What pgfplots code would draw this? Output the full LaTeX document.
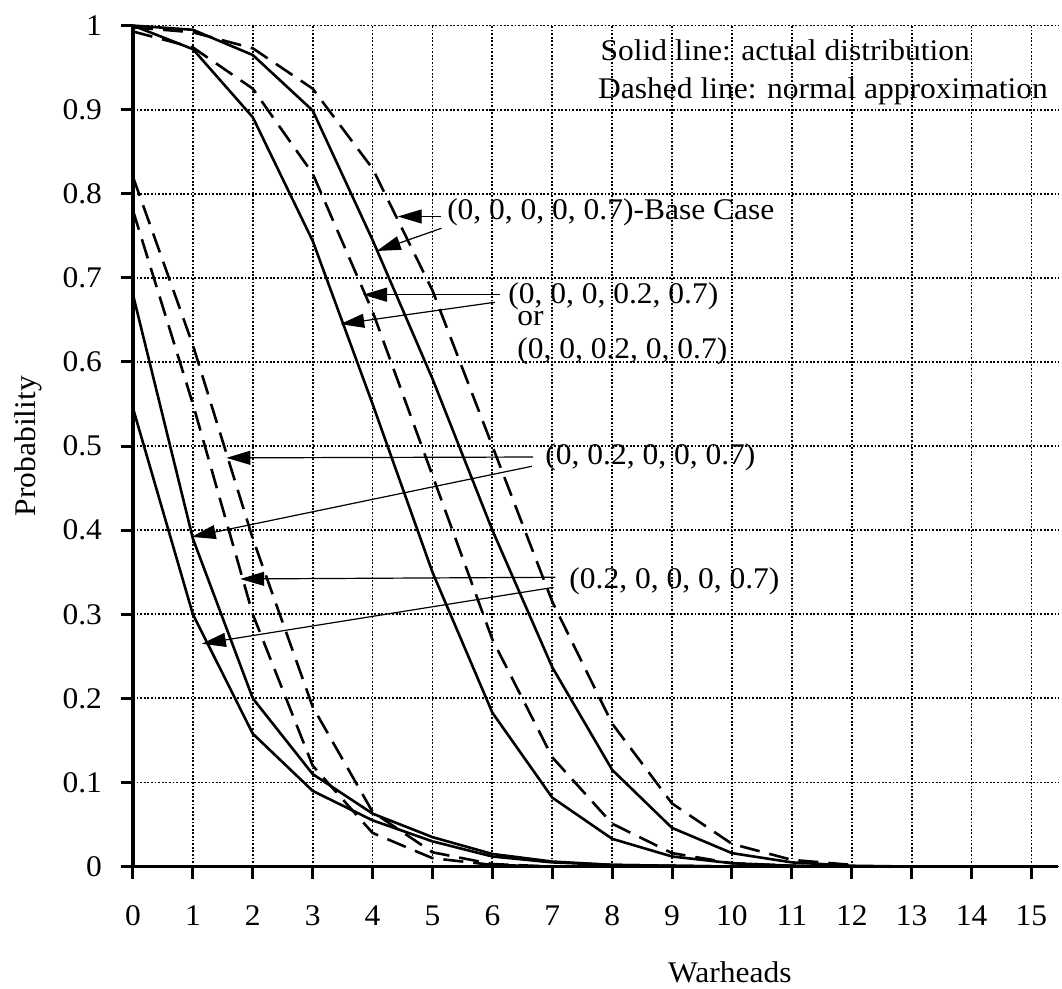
\documentclass[border=0pt]{standalone}
\usepackage{fontspec}
\setmainfont{Liberation Serif}[FakeStretch=1.05]
\usepackage{pgfplots}
\usepackage{pgfplotstable}
\pgfplotsset{compat=1.18}
\usetikzlibrary{arrows.meta}

% actual distribution (solid)
\pgfplotstableread{
x  A     B     C     D
0  1.000 1.000 0.680 0.545
1  0.995 0.972 0.390 0.300
2  0.965 0.891 0.200 0.158
3  0.899 0.744 0.110 0.090
4  0.745 0.550 0.063 0.055
5  0.580 0.350 0.035 0.030
6  0.400 0.183 0.015 0.012
7  0.237 0.082 0.006 0.005
8  0.115 0.033 0.002 0.002
9  0.046 0.012 0.001 0.001
10 0.016 0.004 0.000 0.000
11 0.005 0.001 0.000 0.000
12 0.001 0.000 0.000 0.000
13 0.000 0.000 0.000 0.000
}\solid

% normal approximation (dashed)
\pgfplotstableread{
x  A     B     C     D
0  0.998 0.993 0.820 0.780
1  0.992 0.974 0.620 0.550
2  0.973 0.925 0.390 0.300
3  0.925 0.824 0.190 0.120
4  0.830 0.660 0.065 0.040
5  0.685 0.465 0.017 0.010
6  0.500 0.270 0.003 0.002
7  0.315 0.130 0.000 0.000
8  0.170 0.051 0.000 0.000
9  0.075 0.016 0.000 0.000
10 0.027 0.004 0.000 0.000
11 0.008 0.001 0.000 0.000
12 0.002 0.000 0.000 0.000
}\normal

\begin{document}
\begin{tikzpicture}[font=\fontsize{15}{18}\selectfont]
\begin{axis}[
    at={(0,0)}, anchor=south west,
    scale only axis,
    width=462.7pt, height=420.5pt,
    xmin=0, xmax=15.45, ymin=0, ymax=1,
    axis x line*=bottom, axis y line*=left,
    xtick={0,1,...,15},
    ytick={0,0.1,0.2,0.3,0.4,0.5,0.6,0.7,0.8,0.9,1},
    tick align=outside, major tick length=6pt,
    grid=major,
    grid style={line width=0.9pt, dash pattern=on 0.9pt off 0.9pt, black},
    axis line style={line width=1.6pt},
    tick style={line width=1.5pt, black},
    /pgf/number format/assume math mode=true,
    tick label style={font=\fontsize{15}{18}\selectfont},
    xticklabel style={yshift=-10pt},
    yticklabel style={xshift=-6pt},
    xlabel={Warheads}, ylabel={Probability},
    every axis y label/.style={at={(axis description cs:-0.1135,0.5)}, rotate=90, anchor=center},
    every axis x label/.style={at={(axis description cs:0.645,-0.126)}, anchor=center},
    clip=false,
]
\addplot[black, line width=1.3pt] table[x=x, y=A] {\solid};
\addplot[black, line width=1.3pt] table[x=x, y=B] {\solid};
\addplot[black, line width=1.3pt] table[x=x, y=C] {\solid};
\addplot[black, line width=1.3pt] table[x=x, y=D] {\solid};
\addplot[black, line width=1.3pt, dash pattern=on 10pt off 5pt] table[x=x, y=A] {\normal};
\addplot[black, line width=1.3pt, dash pattern=on 10pt off 5pt] table[x=x, y=B] {\normal};
\addplot[black, line width=1.3pt, dash pattern=on 10pt off 5pt] table[x=x, y=C] {\normal};
\addplot[black, line width=1.3pt, dash pattern=on 10pt off 5pt] table[x=x, y=D] {\normal};

\node[anchor=base west, inner sep=0] at (axis cs:7.80,0.958) {Solid line: actual distribution};
\node[anchor=base west, inner sep=0] at (axis cs:7.76,0.913) {Dashed line: normal approximation};
\node[anchor=base west, inner sep=0] at (axis cs:5.24,0.770) {(0, 0, 0, 0, 0.7)-Base Case};
\node[anchor=base west, inner sep=0] at (axis cs:6.26,0.670) {(0, 0, 0, 0.2, 0.7)};
\node[anchor=base west, inner sep=0] at (axis cs:6.41,0.643) {or};
\node[anchor=base west, inner sep=0] at (axis cs:6.41,0.604) {(0, 0, 0.2, 0, 0.7)};
\node[anchor=base west, inner sep=0] at (axis cs:6.88,0.478) {(0, 0.2, 0, 0, 0.7)};
\node[anchor=base west, inner sep=0] at (axis cs:7.28,0.331) {(0.2, 0, 0, 0, 0.7)};

\begin{scope}[line width=0.6pt, -{Triangle[length=12pt,width=7pt]}]
\draw (axis cs:5.15,0.773) -- (axis cs:4.42,0.773);
\draw (axis cs:5.15,0.759) -- (axis cs:4.07,0.732);
\draw (axis cs:6.13,0.680) -- (axis cs:3.84,0.680);
\draw (axis cs:6.04,0.671) -- (axis cs:3.46,0.645);
\draw (axis cs:6.68,0.487) -- (axis cs:1.56,0.486);
\draw (axis cs:6.66,0.476) -- (axis cs:0.98,0.392);
\draw (axis cs:7.05,0.344) -- (axis cs:1.79,0.342);
\draw (axis cs:7.02,0.332) -- (axis cs:1.15,0.265);
\end{scope}
\end{axis}
\pgfresetboundingbox
\path[use as bounding box] (-66.5pt,-61.2pt) rectangle (464.5pt,433.3pt);
\end{tikzpicture}
\end{document}
